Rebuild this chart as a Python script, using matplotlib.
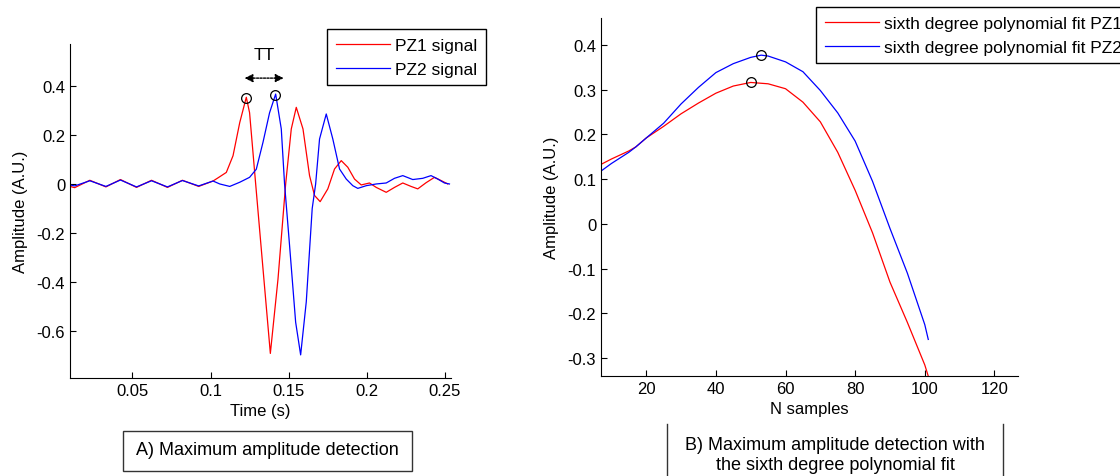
import numpy as np
import matplotlib.pyplot as plt
from matplotlib.patches import Rectangle
from matplotlib.lines import Line2D

plt.rcParams['font.family'] = ['Liberation Sans', 'DejaVu Sans']
plt.rcParams['axes.unicode_minus'] = False

# --- panel A: raw signals (time in s, amplitude in A.U.)
t_pz1 = [0.010, 0.013, 0.0227, 0.033, 0.0423, 0.0526, 0.0622, 0.0724, 0.082, 0.0924,
         0.1016, 0.1048, 0.1101, 0.1144, 0.1187, 0.1229, 0.1250, 0.1289, 0.1336, 0.1383,
         0.1432, 0.1481, 0.1517, 0.1549, 0.1592, 0.1634, 0.1666, 0.1702, 0.1751, 0.1794,
         0.1837, 0.1879, 0.1922, 0.1965, 0.2018, 0.2061, 0.2125, 0.2178, 0.2231, 0.2284,
         0.2327, 0.2380, 0.2434, 0.2476, 0.2519]
y_pz1 = [-0.010, -0.015, 0.015, -0.012, 0.018, -0.014, 0.015, -0.014, 0.015, -0.010,
         0.012, 0.025, 0.047, 0.115, 0.250, 0.353, 0.290, 0.000, -0.346, -0.690,
         -0.387, 0.000, 0.224, 0.312, 0.224, 0.034, -0.047, -0.072, -0.020, 0.061,
         0.095, 0.068, 0.020, -0.004, 0.004, -0.014, -0.034, -0.014, 0.004, -0.010,
         -0.020, 0.005, 0.027, 0.014, 0.000]

t_pz2 = [0.010, 0.013, 0.0227, 0.033, 0.0423, 0.0526, 0.0622, 0.0724, 0.082, 0.0924,
         0.1016, 0.1059, 0.1123, 0.1187, 0.1250, 0.1293, 0.1336, 0.1378, 0.1417, 0.1453,
         0.1474, 0.1506, 0.1545, 0.1577, 0.1613, 0.1651, 0.1673, 0.1698, 0.1741, 0.1783,
         0.1826, 0.1869, 0.1911, 0.1943, 0.1997, 0.2061, 0.2125, 0.2178, 0.2231, 0.2295,
         0.2359, 0.2412, 0.2455, 0.2498, 0.2530]
y_pz2 = [-0.004, -0.008, 0.013, -0.010, 0.016, -0.012, 0.013, -0.012, 0.014, -0.008,
         0.012, 0.000, -0.010, 0.007, 0.027, 0.060, 0.170, 0.290, 0.366, 0.224,
         0.000, -0.250, -0.563, -0.696, -0.480, -0.100, 0.000, 0.183, 0.285, 0.183,
         0.061, 0.020, -0.007, -0.018, -0.007, 0.000, 0.004, 0.023, 0.034, 0.018,
         0.023, 0.034, 0.020, 0.004, 0.000]

peak_t = [0.1225, 0.1412]
peak_y = [0.350, 0.364]

# --- panel B: sixth degree polynomial fits
n_fit = [7, 10, 15, 17, 20, 25, 30, 35, 40, 45, 50, 55, 60, 65, 70, 75, 80, 85, 90, 95, 100, 101]
fit_pz1 = [0.133, 0.145, 0.163, 0.172, 0.192, 0.218, 0.246, 0.270, 0.292, 0.308, 0.316, 0.313,
           0.302, 0.272, 0.228, 0.160, 0.075, -0.020, -0.130, -0.220, -0.315, -0.340]
n_fit2 = [7, 10, 15, 17, 20, 25, 30, 35, 40, 45, 50, 53, 55, 60, 65, 70, 75, 80, 85, 90, 95, 100, 101]
fit_pz2 = [0.118, 0.135, 0.160, 0.172, 0.192, 0.225, 0.268, 0.305, 0.338, 0.358, 0.372, 0.377,
           0.375, 0.362, 0.340, 0.298, 0.248, 0.185, 0.095, -0.010, -0.110, -0.225, -0.258]
max_n = [50, 53]
max_amp = [0.317, 0.377]

fig = plt.figure(figsize=(11.2, 4.77), dpi=100)

def style(ax):
    for s in ['top', 'right']:
        ax.spines[s].set_visible(False)
    ax.tick_params(direction='in', labelsize=12, length=4)

# panel A
ax1 = fig.add_axes([0.0625, 0.2055, 0.3402, 0.7002])
ax1.plot(t_pz1, y_pz1, color='red', lw=0.9, label='PZ1 signal')
ax1.plot(t_pz2, y_pz2, color='blue', lw=0.9, label='PZ2 signal')
ax1.plot(peak_t, peak_y, 'o', mfc='none', mec='black', ms=7, mew=0.9)
ax1.set_xlim(0.01, 0.254)
ax1.set_ylim(-0.79, 0.57)
ax1.set_xticks([0.05, 0.1, 0.15, 0.2, 0.25])
ax1.set_xticklabels(['0.05', '0.1', '0.15', '0.2', '0.25'])
ax1.set_yticks([-0.6, -0.4, -0.2, 0, 0.2, 0.4])
ax1.set_yticklabels(['-0.6', '-0.4', '-0.2', '0', '0.2', '0.4'])
ax1.set_xlabel('Time (s)', fontsize=12, labelpad=4)
ax1.set_ylabel('Amplitude (A.U.)', fontsize=12, labelpad=6)
style(ax1)
ax1.annotate('', xy=(0.1468, 0.431), xytext=(0.1218, 0.431),
             arrowprops=dict(arrowstyle='<|-|>', color='black', lw=1, mutation_scale=12,
                             linestyle=(0, (1.5, 1)), shrinkA=0, shrinkB=0))
ax1.text(0.1345, 0.529, 'TT', fontsize=12.5, ha='center', va='center')
ax1.legend(loc='upper left', bbox_to_anchor=(327 / 1120, 1 - 30 / 477),
           bbox_transform=fig.transFigure, borderaxespad=0, fancybox=False,
           edgecolor='black', framealpha=1, fontsize=12.5, handlelength=3.1,
           handletextpad=0.3, labelspacing=0.5, borderpad=0.5)

# panel B
ax2 = fig.add_axes([0.5366, 0.2103, 0.3721, 0.7499])
ax2.plot(n_fit, fit_pz1, color='red', lw=0.9, label='sixth degree polynomial fit PZ1')
ax2.plot(n_fit2, fit_pz2, color='blue', lw=0.9, label='sixth degree polynomial fit PZ2')
ax2.plot(max_n, max_amp, 'o', mfc='none', mec='black', ms=7, mew=0.9)
ax2.set_xlim(7, 126.7)
ax2.set_ylim(-0.339, 0.46)
ax2.set_xticks([20, 40, 60, 80, 100, 120])
ax2.set_yticks([-0.3, -0.2, -0.1, 0, 0.1, 0.2, 0.3, 0.4])
ax2.set_yticklabels(['-0.3', '-0.2', '-0.1', '0', '0.1', '0.2', '0.3', '0.4'])
ax2.set_xlabel('N samples', fontsize=12, labelpad=4)
ax2.set_ylabel('Amplitude (A.U.)', fontsize=12, labelpad=6)
style(ax2)
ax2.legend(loc='upper left', bbox_to_anchor=(816 / 1120, 1 - 8 / 477),
           bbox_transform=fig.transFigure, borderaxespad=0, fancybox=False,
           edgecolor='black', framealpha=1, fontsize=12.5, handlelength=3.1,
           handletextpad=0.3, labelspacing=0.5, borderpad=0.5)

# captions
fig.patches.append(Rectangle((122.7 / 1120, 1 - 472 / 477), (411.7 - 122.7) / 1120, 40 / 477,
                             transform=fig.transFigure, fill=False, edgecolor='#333333', lw=1))
fig.text(267 / 1120, 1 - 451 / 477, 'A) Maximum amplitude detection', fontsize=13,
         ha='center', va='center')
for xv in [667, 1002.7]:
    fig.add_artist(Line2D([xv / 1120, xv / 1120], [0, 1 - 425 / 477], color='#333333', lw=1))
fig.text(835 / 1120, 1 - 446 / 477, 'B) Maximum amplitude detection with', fontsize=13,
         ha='center', va='center')
fig.text(835 / 1120, 1 - 466 / 477, 'the sixth degree polynomial fit', fontsize=13,
         ha='center', va='center')

fig.savefig('out.png', dpi=100)
